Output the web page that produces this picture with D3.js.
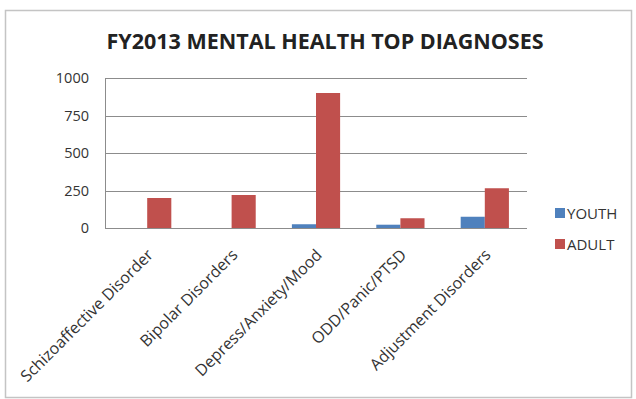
<!DOCTYPE html>
<html><head><meta charset="utf-8">
<script src="https://cdn.jsdelivr.net/npm/d3@7"></script>
<style>body{margin:0;background:#fff}svg{display:block}</style>
</head><body>
<script>
const categories = ["Schizoaffective Disorder","Bipolar Disorders","Depress/Anxiety/Mood","ODD/Panic/PTSD","Adjustment Disorders"];
const youth = [0, 0, 25, 22, 75];
const adult = [200, 220, 900, 65, 265];
const seriesNames = ["YOUTH","ADULT"];
const yTicks = [0, 250, 500, 750, 1000];
const colors = ["#4f81bd","#c0504d"];

const W = 636, H = 399;
const svg = d3.select("body").append("svg").attr("width", W).attr("height", H);
const font = "'Open Sans', 'Liberation Sans', sans-serif";

svg.append("rect").attr("x",5.5).attr("y",10.5).attr("width",626).attr("height",387)
  .attr("fill","#fff").attr("stroke","#c4c4c4").attr("stroke-width",1.5);

const L = 105, R = 527, T = 78, B = 228;
const x = d3.scaleBand().domain(categories).range([L, R]);
const y = d3.scaleLinear().domain([0, 1000]).range([B, T]);
const inner = d3.scaleBand().domain(seriesNames).range([0, x.bandwidth()]).paddingOuter(0.75);

svg.append("text").attr("x", 325).attr("y", 49).attr("text-anchor","middle")
  .attr("font-family", font).attr("font-weight","bold").attr("font-size", 21.5)
  .attr("fill","#222").text("FY2013 MENTAL HEALTH TOP DIAGNOSES");

// gridlines
svg.append("g").selectAll("line").data(yTicks).join("line")
  .attr("x1", L).attr("x2", R).attr("y1", d=>Math.round(y(d))+0.5).attr("y2", d=>Math.round(y(d))+0.5)
  .attr("stroke","#8c8c8c").attr("stroke-width",1);
svg.append("line").attr("x1",L+0.5).attr("x2",L+0.5).attr("y1",T).attr("y2",B+0.5).attr("stroke","#8c8c8c");

const yAxis = svg.append("g").attr("transform",`translate(${L},0)`)
  .call(d3.axisLeft(y).tickValues(yTicks).tickFormat(d3.format("d")).tickSize(0).tickPadding(16));
yAxis.select(".domain").remove();
yAxis.selectAll("text").attr("font-family",font).attr("font-size",14.5).attr("fill","#333");

const data = categories.map((c,i)=>({c, vals:[youth[i], adult[i]]}));
const g = svg.append("g");
data.forEach(d=>{
  d.vals.forEach((v,j)=>{
    if (v<=0) return;
    g.append("rect").attr("x", x(d.c)+inner(seriesNames[j])).attr("width", inner.bandwidth())
      .attr("y", y(v)).attr("height", B - y(v)).attr("fill", colors[j]);
  });
});

const xAxis = svg.append("g").attr("transform",`translate(0,${B})`)
  .call(d3.axisBottom(x).tickSize(0).tickPadding(0));
xAxis.select(".domain").remove();
xAxis.selectAll("text").attr("font-family",font).attr("font-size",16).attr("fill","#333")
  .attr("text-anchor","end").attr("dy","0.35em").attr("y",0).attr("transform","translate(3,24) rotate(-45)");

const leg = svg.append("g");
seriesNames.forEach((s,i)=>{
  const yy = 208 + i*31;
  leg.append("rect").attr("x",555).attr("y",yy).attr("width",10).attr("height",10).attr("fill",colors[i]);
  leg.append("text").attr("x",567).attr("y",yy+10.5).attr("font-family",font).attr("font-size",15)
    .attr("fill","#333").text(s);
});
</script>
</body></html>
